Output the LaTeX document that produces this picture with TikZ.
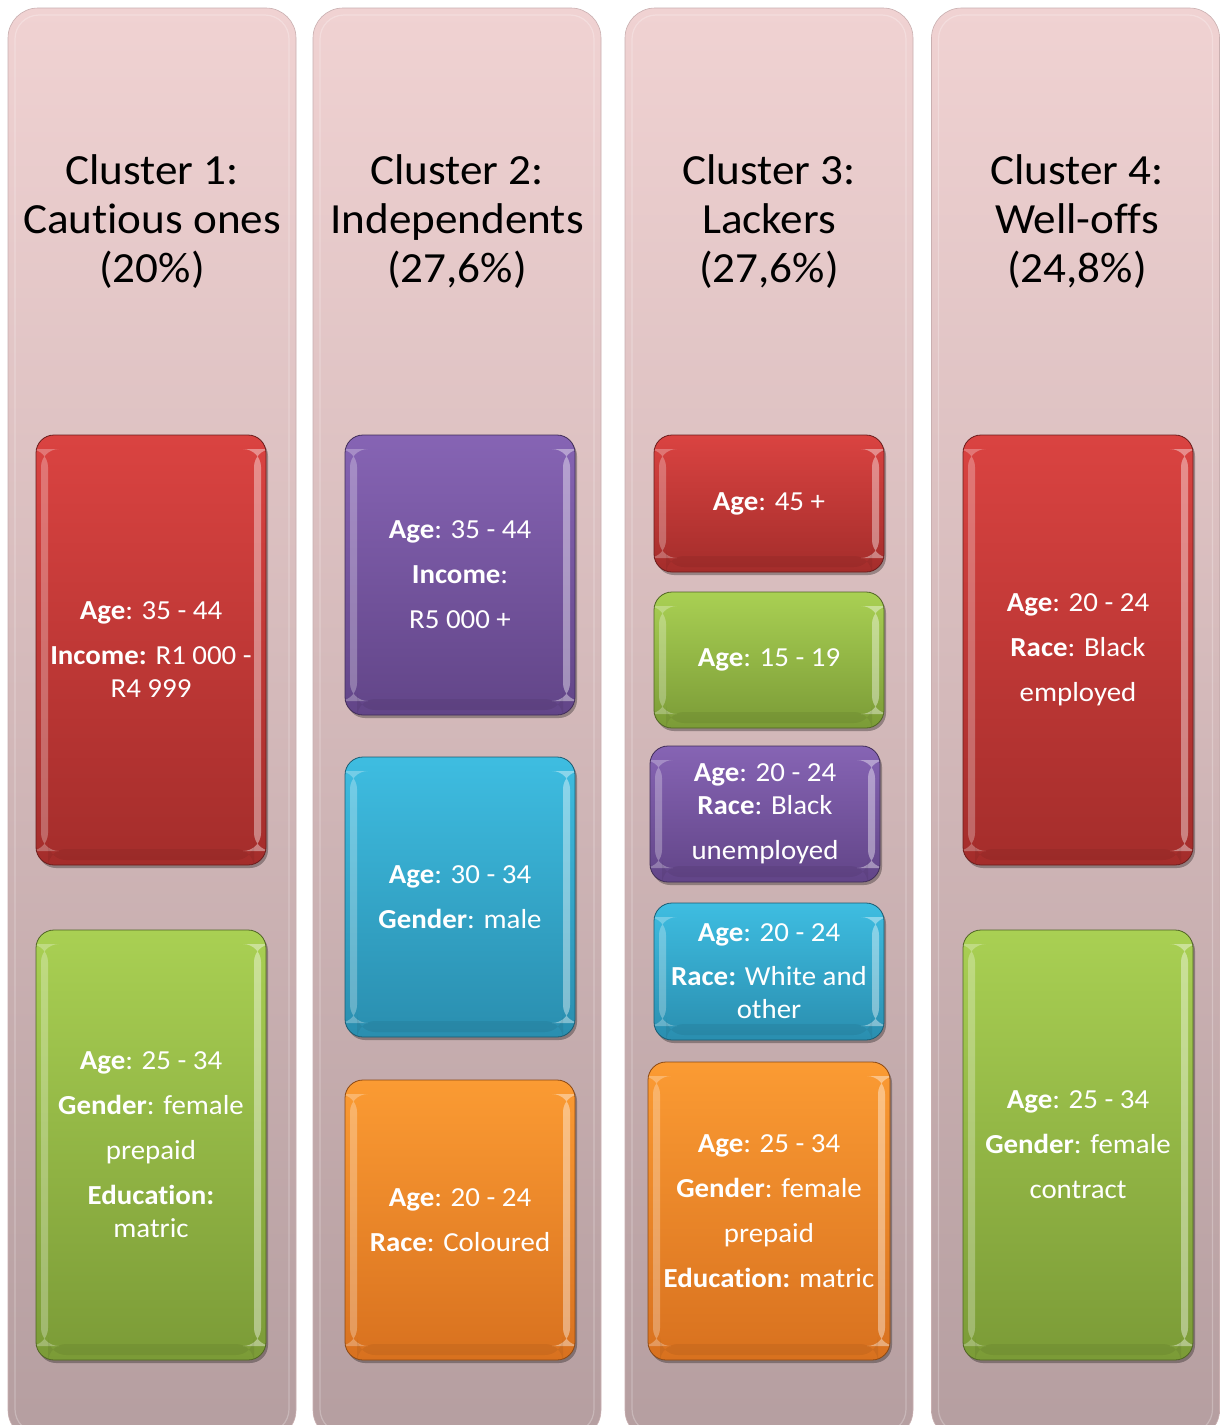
\documentclass[tikz,border=0pt]{standalone}
\usepackage{fontspec}
\setmainfont{Carlito}[Ligatures=NoCommon, FakeStretch=1.05]
\usetikzlibrary{shadows}

% palette
\definecolor{colTop}{HTML}{F0D2D2}
\definecolor{colBot}{HTML}{B59EA0}
\definecolor{colEdge}{HTML}{C9AFB0}
\definecolor{redT}{HTML}{DA4341}
\definecolor{redB}{HTML}{A42D2B}
\definecolor{grnT}{HTML}{A9D053}
\definecolor{grnB}{HTML}{7B9B37}
\definecolor{purT}{HTML}{8664B4}
\definecolor{purB}{HTML}{624588}
\definecolor{cyaT}{HTML}{3EBDE1}
\definecolor{cyaB}{HTML}{2A8EAF}
\definecolor{oraT}{HTML}{FB9B33}
\definecolor{oraB}{HTML}{D8711F}

\tikzset{
  column/.style={rounded corners=30pt, top color=colTop, bottom color=colBot,
    draw=colEdge, line width=0.6pt, minimum width=288pt, minimum height=1432pt,
    inner sep=0pt, path picture={
      \draw[white, opacity=0.25, line width=1.2pt, rounded corners=24pt]
        ([xshift=7pt,yshift=-7pt]path picture bounding box.north west)
        rectangle ([xshift=-7pt,yshift=7pt]path picture bounding box.south east);}},
  title/.style={font=\fontsize{43}{49}\selectfont, align=center, text=black, inner sep=0pt},
  card/.style 2 args={rounded corners=18pt, top color=#1, bottom color=#2,
    draw=#2!65!black, line width=0.8pt, text=white, align=center, inner sep=0pt,
    font=\fontsize{27.5}{33}\selectfont, minimum width=230pt,
    drop shadow={shadow xshift=2pt, shadow yshift=-3pt, opacity=0.3, fill=black},
    path picture={
      \fill[white, opacity=0.28]
        ([xshift=5pt,yshift=-14pt]path picture bounding box.north west)
        rectangle ([xshift=12pt,yshift=14pt]path picture bounding box.south west);
      \fill[white, opacity=0.40]
        ([xshift=-12pt,yshift=-14pt]path picture bounding box.north east)
        rectangle ([xshift=-5pt,yshift=14pt]path picture bounding box.south east);
      \fill[black, opacity=0.06]
        ([xshift=12pt,yshift=16pt]path picture bounding box.south west)
        rectangle ([xshift=-12pt,yshift=5pt]path picture bounding box.south east);}},
  redcard/.style={card={redT}{redB}},
  grncard/.style={card={grnT}{grnB}},
  purcard/.style={card={purT}{purB}},
  cyacard/.style={card={cyaT}{cyaB}},
  oracard/.style={card={oraT}{oraB}},
}

\begin{document}
\begin{tikzpicture}[x=1pt, y=-1pt]
  \useasboundingbox[fill=white] (0,0) rectangle (1220,1425);
  \clip (0,0) rectangle (1220,1425);

  % cluster columns
  \node[column] (col1) at (152,724) {};
  \node[column] (col2) at (457,724) {};
  \node[column] (col3) at (769,724) {};
  \node[column] (col4) at (1075.5,724) {};

  % cluster titles
  \node[title] (t1) at (152,222) {Cluster 1:\\Cautious ones\\(20\%)};
  \node[title] (t2) at (457,222) {Cluster 2:\\Independents\\(27,6\%)};
  \node[title] (t3) at (769,222) {Cluster 3:\\Lackers\\(27,6\%)};
  \node[title] (t4) at (1077,222) {Cluster 4:\\Well-offs\\(24,8\%)};

  % cluster 1
  \node[redcard, minimum height=430pt] (c1a) at (151,650)
    {\textbf{Age}: 35 - 44\\[12pt]\textbf{Income:} R1 000 -\\R4 999};
  \node[grncard, minimum height=430pt] (c1b) at (151,1145)
    {\textbf{Age}: 25 - 34\\[12pt]\textbf{Gender}: female\\[12pt]prepaid\\[12pt]\textbf{Education:}\\matric};

  % cluster 2
  \node[purcard, minimum height=280pt] (c2a) at (460,575)
    {\textbf{Age}: 35 - 44\\[12pt]\textbf{Income}:\\[12pt]R5 000 +};
  \node[cyacard, minimum height=280pt] (c2b) at (460,897)
    {\textbf{Age}: 30 - 34\\[12pt]\textbf{Gender}: male};
  \node[oracard, minimum height=280pt] (c2c) at (460,1220)
    {\textbf{Age}: 20 - 24\\[12pt]\textbf{Race}: Coloured};

  % cluster 3
  \node[redcard, minimum height=137pt] (c3a) at (769,503.5)
    {\textbf{Age}: 45 +};
  \node[grncard, minimum height=136pt] (c3b) at (769,660)
    {\textbf{Age}: 15 - 19};
  \node[purcard, minimum height=136pt] (c3c) at (765,814)
    {\textbf{Age}: 20 - 24\\\textbf{Race}: Black\\[12pt]unemployed};
  \node[cyacard, minimum height=137pt] (c3d) at (769,971.5)
    {\textbf{Age}: 20 - 24\\[11pt]\textbf{Race:} White and\\other};
  \node[oracard, minimum height=298pt, minimum width=242pt] (c3e) at (769,1211)
    {\textbf{Age}: 25 - 34\\[12pt]\textbf{Gender}: female\\[12pt]prepaid\\[12pt]\textbf{Education:} matric};

  % cluster 4
  \node[redcard, minimum height=430pt] (c4a) at (1078,650)
    {\textbf{Age}: 20 - 24\\[12pt]\textbf{Race}: Black\\[12pt]employed};
  \node[grncard, minimum height=430pt] (c4b) at (1078,1145)
    {\textbf{Age}: 25 - 34\\[12pt]\textbf{Gender}: female\\[12pt]contract};
\end{tikzpicture}
\end{document}
